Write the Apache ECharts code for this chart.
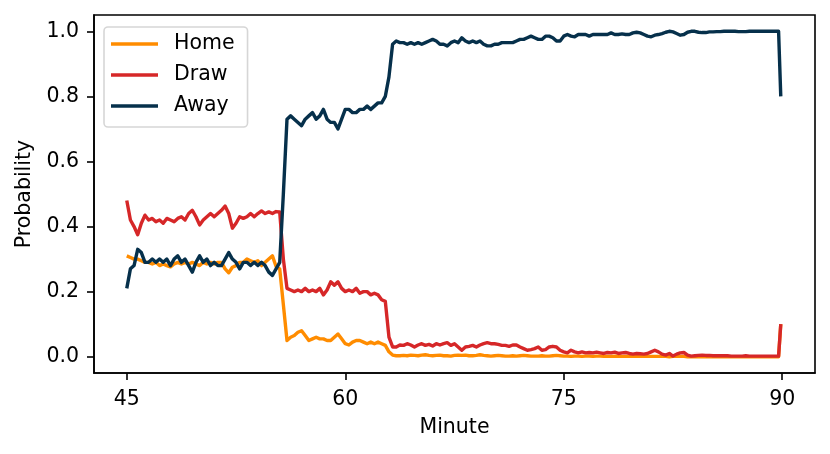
<!DOCTYPE html>
<html>
<head>
<meta charset="utf-8">
<script src="https://cdn.jsdelivr.net/npm/echarts@6/dist/echarts.min.js"></script>
<style>html,body{margin:0;padding:0;background:#fff}#c{width:830px;height:454px}</style>
</head>
<body>
<div id="c"></div>
<script>
// Sampled every 0.25 minute from 45 to 89.75, last sample at 89.9
const lastMinute = 89.9;
const homeProb = [
  0.31,0.305,0.30,0.30, 0.295,0.29,0.29,0.285, 0.29,0.28,0.285,0.28, 0.276,0.285,0.29,0.285,
  0.29,0.285,0.29,0.285, 0.28,0.29,0.285,0.29, 0.285,0.29,0.29,0.27, 0.258,0.275,0.28,0.29,
  0.29,0.30,0.295,0.29, 0.295,0.28,0.29,0.30, 0.31,0.277,0.27,0.16, 0.05,0.06,0.065,0.075,
  0.08,0.065,0.05,0.055, 0.06,0.055,0.055,0.05, 0.05,0.06,0.07,0.055, 0.04,0.036,0.045,0.05,
  0.05,0.045,0.04,0.045, 0.04,0.045,0.04,0.035, 0.015,0.005,0.003,0.003, 0.004,0.003,0.005,0.004,
  0.003,0.005,0.006,0.004, 0.003,0.004,0.005,0.003, 0.003,0.002,0.004,0.005, 0.004,0.005,0.003,0.003,
  0.004,0.006,0.004,0.003, 0.002,0.003,0.004,0.003, 0.002,0.002,0.003,0.002, 0.003,0.004,0.003,0.002,
  0.002,0.002,0.003,0.002, 0.002,0.003,0.004,0.003, 0.002,0.002,0.001,0.002, 0.002,0.001,0.002,0.002,
  0.001,0.002,0.002,0.001, 0.001,0.001,0.002,0.001, 0.001,0.001,0.001,0.001, 0.001,0.001,0.001,0.001,
  0.001,0.001,0.001,0.001, 0.001,0.0,0.001,0.001, 0.001,0.001,0.0,0.0, 0.0,0.0,0.0,0.0,
  0.0,0.0,0.0,0.0, 0.0,0.0,0.0,0.0, 0.0,0.0,0.0,0.0, 0.0,0.0,0.0,0.0, 0.0,0.0,0.0,0.0,
  0.10
];
const drawProb = [
  0.48,0.42,0.40,0.375, 0.41,0.435,0.42,0.425, 0.415,0.42,0.41,0.425, 0.42,0.415,0.425,0.43,
  0.42,0.44,0.45,0.43, 0.405,0.42,0.43,0.44, 0.43,0.44,0.45,0.463, 0.44,0.395,0.41,0.43,
  0.425,0.43,0.44,0.43, 0.44,0.448,0.44,0.445, 0.44,0.446,0.445,0.30, 0.21,0.205,0.20,0.205,
  0.20,0.21,0.20,0.205, 0.20,0.21,0.19,0.205, 0.23,0.22,0.23,0.21, 0.20,0.205,0.20,0.21,
  0.195,0.20,0.20,0.19, 0.195,0.19,0.175,0.17, 0.06,0.03,0.03,0.036, 0.035,0.04,0.036,0.03,
  0.036,0.04,0.035,0.038, 0.033,0.04,0.036,0.04, 0.043,0.035,0.04,0.03, 0.02,0.03,0.032,0.035,
  0.03,0.036,0.04,0.043, 0.04,0.04,0.038,0.035, 0.035,0.032,0.036,0.036, 0.03,0.025,0.02,0.022,
  0.025,0.03,0.02,0.022, 0.03,0.032,0.03,0.02, 0.015,0.012,0.02,0.015, 0.012,0.015,0.012,0.013,
  0.012,0.014,0.012,0.01, 0.013,0.012,0.014,0.01, 0.012,0.013,0.01,0.008, 0.01,0.009,0.008,0.01,
  0.015,0.02,0.015,0.008, 0.005,0.01,0.002,0.008, 0.012,0.013,0.005,0.002, 0.003,0.004,0.005,0.004,
  0.004,0.003,0.003,0.003, 0.003,0.003,0.002,0.002, 0.002,0.002,0.003,0.002, 0.002,0.002,0.002,0.002,
  0.002,0.002,0.002,0.002,
  0.10
];
const awayProb = [
  0.21,0.27,0.28,0.33, 0.32,0.29,0.29,0.30, 0.29,0.30,0.29,0.30, 0.28,0.30,0.31,0.29,
  0.30,0.28,0.26,0.29, 0.31,0.29,0.30,0.28, 0.29,0.28,0.28,0.30, 0.32,0.30,0.29,0.27,
  0.29,0.29,0.28,0.29, 0.28,0.29,0.28,0.26, 0.25,0.27,0.29,0.50, 0.73,0.74,0.73,0.72,
  0.71,0.73,0.74,0.75, 0.73,0.74,0.76,0.73, 0.72,0.72,0.70,0.73, 0.76,0.76,0.75,0.75,
  0.76,0.76,0.77,0.76, 0.77,0.78,0.78,0.80, 0.86,0.96,0.97,0.965, 0.965,0.96,0.965,0.96,
  0.965,0.96,0.965,0.97, 0.975,0.97,0.96,0.96, 0.955,0.965,0.97,0.965, 0.98,0.97,0.965,0.97,
  0.965,0.97,0.96,0.955, 0.955,0.96,0.96,0.965, 0.965,0.965,0.965,0.97, 0.975,0.975,0.98,0.985,
  0.98,0.975,0.975,0.985, 0.985,0.98,0.97,0.97, 0.985,0.99,0.985,0.983, 0.99,0.99,0.99,0.985,
  0.99,0.99,0.99,0.99, 0.99,0.995,0.99,0.99, 0.992,0.99,0.99,0.995, 0.997,0.995,0.99,0.985,
  0.983,0.988,0.99,0.993, 0.997,1.0,0.998,0.993, 0.988,0.99,0.997,1.0, 1.0,0.997,0.996,0.996,
  0.998,0.998,0.999,0.999, 1.0,1.0,1.0,1.0, 0.999,0.999,0.999,1.0, 1.0,1.0,1.0,1.0,
  1.0,1.0,1.0,1.0,
  0.80
];
const xTicks = [45, 60, 75, 90];
const yTicks = [0, 0.2, 0.4, 0.6, 0.8, 1.0];
const seriesNames = ['Home', 'Draw', 'Away'];
const seriesColors = ['#ff8c00', '#d62728', '#06304b'];

function minuteAt(i, n) { return i === n - 1 ? lastMinute : 45 + 0.25 * i; }
function pairs(arr) { return arr.map((v, i) => [minuteAt(i, arr.length), v]); }

const FONT = 'DejaVu Sans';
const chart = echarts.init(document.getElementById('c'), null, {renderer: 'canvas'});
chart.setOption({
  animation: false,
  backgroundColor: '#fff',
  grid: {left: 94, right: 15, top: 15, bottom: 81, show: true, borderColor: '#000', borderWidth: 1.6, backgroundColor: 'transparent'},
  legend: {
    left: 104, top: 27, orient: 'vertical',
    data: seriesNames.map(n => ({name: n, icon: 'rect'})),
    itemWidth: 47, itemHeight: 3.4, itemGap: 9,
    padding: [6, 13, 10, 7],
    backgroundColor: 'rgba(255,255,255,0.8)',
    borderColor: 'rgba(204,204,204,0.8)', borderWidth: 1.6, borderRadius: 4,
    textStyle: {fontFamily: FONT, fontSize: 20.5, color: '#000', lineHeight: 22, padding: [0, 0, 0, 11]}
  },
  xAxis: {
    type: 'value', min: 42.75, max: 92.25,
    name: 'Minute', nameLocation: 'middle', nameGap: 44,
    nameTextStyle: {fontFamily: FONT, fontSize: 20.5, color: '#000'},
    axisLine: {show: true, onZero: false, lineStyle: {color: '#000', width: 1.6}},
    axisTick: {show: true, inside: false, length: 7, lineStyle: {color: '#000', width: 1.6}, customValues: xTicks},
    axisLabel: {margin: 16, fontFamily: FONT, fontSize: 20.5, color: '#000', customValues: xTicks, formatter: v => String(v)},
    splitLine: {show: false}
  },
  yAxis: {
    type: 'value', min: -0.05, max: 1.05,
    name: 'Probability', nameLocation: 'middle', nameGap: 59, nameRotate: 90,
    nameTextStyle: {fontFamily: FONT, fontSize: 20.5, color: '#000'},
    axisLine: {show: true, onZero: false, lineStyle: {color: '#000', width: 1.6}},
    axisTick: {show: true, inside: false, length: 7, lineStyle: {color: '#000', width: 1.6}, customValues: yTicks},
    axisLabel: {margin: 15, fontFamily: FONT, fontSize: 20.5, color: '#000', customValues: yTicks, formatter: v => v.toFixed(1)},
    splitLine: {show: false}
  },
  series: [homeProb, drawProb, awayProb].map((arr, k) => ({
    name: seriesNames[k], type: 'line', data: pairs(arr),
    showSymbol: false, symbol: 'none',
    lineStyle: {color: seriesColors[k], width: 3.4, join: 'round'},
    itemStyle: {color: seriesColors[k]},
    z: 2 + k
  }))
});
</script>
</body>
</html>
